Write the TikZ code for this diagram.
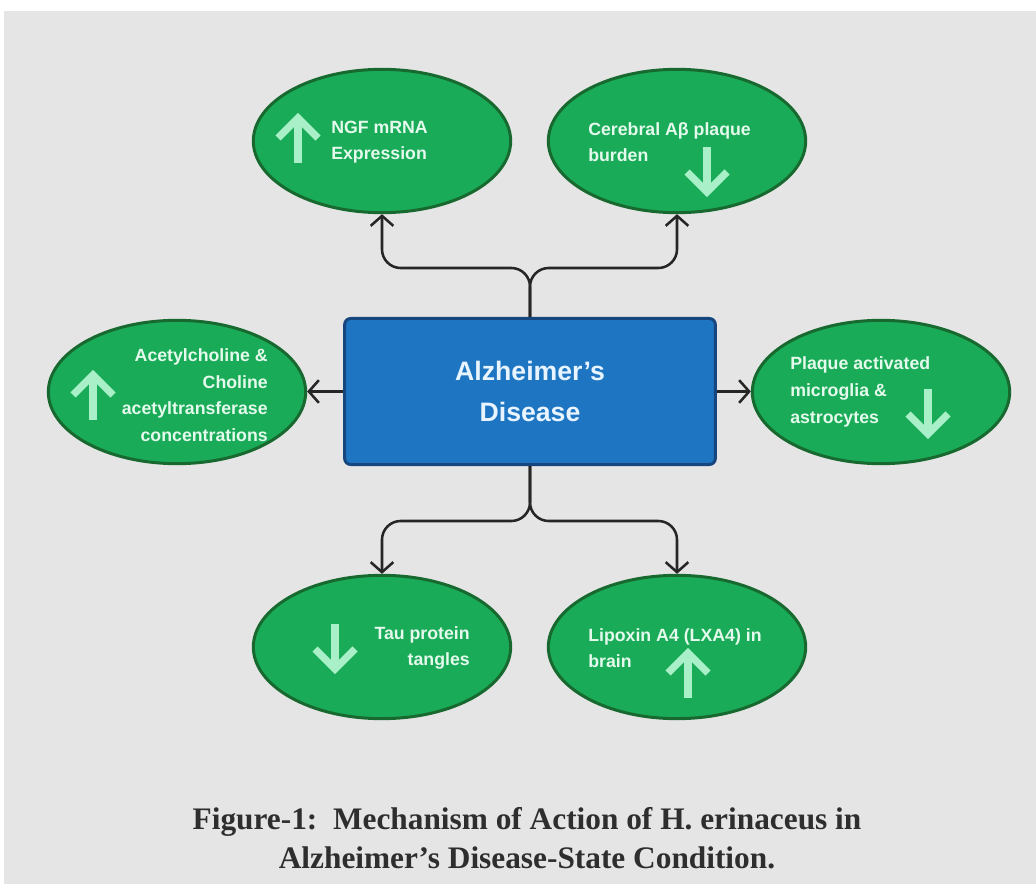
\documentclass[tikz,border=0pt]{standalone}
\usepackage{fontspec}
\setmainfont{Liberation Sans}
\newfontfamily\capfont{Liberation Serif}
\usetikzlibrary{arrows.meta,shapes.geometric}
\definecolor{bgc}{HTML}{E5E5E5}
\definecolor{ellfill}{HTML}{1AAB58}
\definecolor{ellborder}{HTML}{17692F}
\definecolor{iconc}{HTML}{A9F0C8}
\definecolor{etext}{HTML}{E3FAEC}
\definecolor{boxfill}{HTML}{1E76C2}
\definecolor{boxborder}{HTML}{17467F}
\definecolor{boxtext}{HTML}{E8F4FF}
\definecolor{connc}{HTML}{262626}
\definecolor{capc}{HTML}{2E2E2E}
\begin{document}
\begin{tikzpicture}[x=0.75pt,y=-0.75pt,
  ell/.style={ellipse, draw=ellborder, fill=ellfill, line width=2.25pt,
    minimum width=193pt, minimum height=107.5pt, inner sep=0pt},
  etxt/.style={text=etext, font=\bfseries\fontsize{13.3}{20}\selectfont, inner sep=0pt},
  mainbox/.style={rectangle, rounded corners=4.5pt, draw=boxborder, fill=boxfill,
    line width=2.25pt, minimum width=278pt, minimum height=109.5pt,
    text=boxtext, align=center, font=\bfseries\fontsize{20}{30.5}\selectfont},
  conn/.style={draw=connc, line width=1.9pt, -{Straight Barb[length=7.5pt,width=17pt]},
    rounded corners=14pt},
  icon/.style={draw=iconc, line width=5.5pt, line join=miter, line cap=butt},
  captxt/.style={text=capc, font=\capfont\bfseries\fontsize{23.5}{28}\selectfont, inner sep=0pt},
  icoup/.pic={\draw[icon] (0,23) -- (0,-18); \draw[icon] (-20,-2) -- (0,-22) -- (20,-2);},
  icodown/.pic={\draw[icon] (0,-23) -- (0,18); \draw[icon] (-20,2) -- (0,22) -- (20,2);}
]
\useasboundingbox (0,0) rectangle (1036,884);
\fill[white] (0,0) rectangle (1036,884);
\fill[bgc] (4,11) rectangle (1036,884);

% central box
\node[mainbox] (ad) at (530,391.5) {Alzheimer’s\\Disease};

% ellipses
\node[ell] (ngf) at (382,141) {};
\node[ell] (cer) at (677,141) {};
\node[ell] (ace) at (177,392) {};
\node[ell] (plq) at (881,392) {};
\node[ell] (tau) at (382,647) {};
\node[ell] (lip) at (677,647) {};

% texts
\node[etxt, anchor=west, align=left] (ngft) at (331,142) {NGF mRNA\\Expression};
\node[etxt, anchor=west, align=left] (cert) at (588,142) {Cerebral Aβ plaque\\burden};
\node[etxt, anchor=east, align=right] (acet) at (268,395) {Acetylcholine \&\\Choline\\acetyltransferase\\concentrations};
\node[etxt, anchor=west, align=left] (plqt) at (790,392) {Plaque activated\\microglia \&\\astrocytes};
\node[etxt, anchor=east, align=right] (taut) at (470,648) {Tau protein\\tangles};
\node[etxt, anchor=west, align=left] (lipt) at (588,648) {Lipoxin A4 (LXA4) in\\brain};

% icons
\pic at (298,140) {icoup};
\pic at (707,170) {icodown};
\pic at (93,397) {icoup};
\pic at (928,412) {icodown};
\pic at (335,647) {icodown};
\pic at (688,675) {icoup};

% connectors
\coordinate (tj) at (530,268);
\coordinate (bj) at (530,521);
\draw[conn] (ad.north) -- (tj) -| (ngf.south);
\draw[conn] (ad.north) -- (tj) -| (cer.south);
\draw[conn] (ad.south) -- (bj) -| (tau.north);
\draw[conn] (ad.south) -- (bj) -| (lip.north);
\draw[conn] (ad.west) -- (ad.west -| ace.east);
\draw[conn] (ad.east) -- (ad.east -| plq.west);

% caption
\node[captxt] (cap1) at (527,822) {Figure-1:\ \ Mechanism of Action of H. erinaceus in};
\node[captxt] (cap2) at (527,858) {Alzheimer’s Disease-State Condition.};
\end{tikzpicture}
\end{document}
